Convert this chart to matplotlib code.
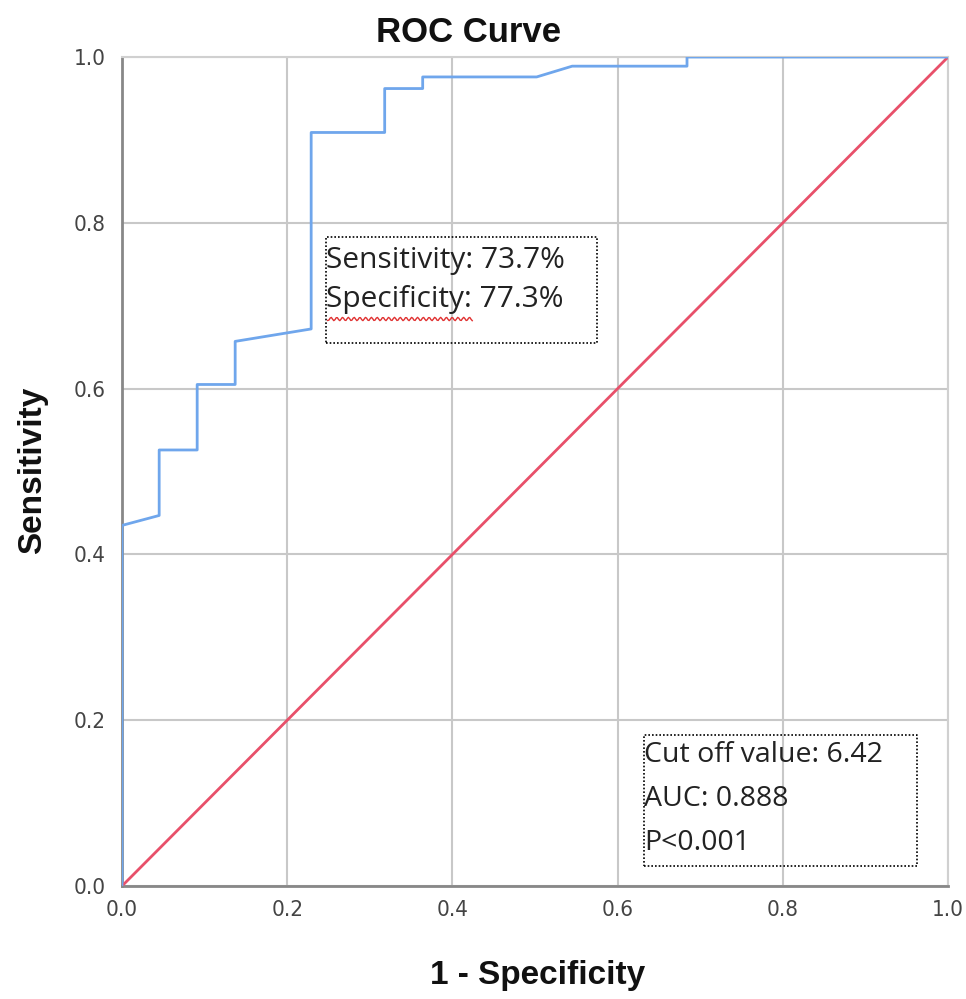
import numpy as np
import matplotlib
matplotlib.use("Agg")
import matplotlib.pyplot as plt

# ROC curve points
fpr = [0.0, 0.0, 0.045, 0.045, 0.091, 0.091, 0.137, 0.137, 0.229, 0.229,
       0.318, 0.318, 0.364, 0.364, 0.502, 0.545, 0.684, 0.684, 1.0]
tpr = [0.0, 0.435, 0.447, 0.526, 0.526, 0.605, 0.605, 0.657, 0.672, 0.909,
       0.909, 0.962, 0.962, 0.976, 0.976, 0.989, 0.989, 1.0, 1.0]
ref_line = [0.0, 1.0]
ticks = [0.0, 0.2, 0.4, 0.6, 0.8, 1.0]
tick_labels = ["0.0", "0.2", "0.4", "0.6", "0.8", "1.0"]

box1_lines = ["Sensitivity: 73.7%", "Specificity: 77.3%"]
box2_lines = ["Cut off value: 6.42", "AUC: 0.888", "P<0.001"]

fig = plt.figure(figsize=(9.66, 9.99), dpi=100)
ax = fig.add_axes([0.1263, 0.1131, 0.8551, 0.8298])

ax.set_xlim(0, 1)
ax.set_ylim(0, 1)
ax.set_xticks(ticks)
ax.set_yticks(ticks)
tick_font = dict(fontsize=16, color="#444444", fontfamily="DejaVu Sans", fontstretch="condensed")
ax.set_xticklabels(tick_labels, **tick_font)
ax.set_yticklabels(tick_labels, **tick_font)
ax.tick_params(axis="x", length=0, pad=10)
ax.tick_params(axis="y", length=0, pad=12)
ax.grid(True, color="#c8c8c8", linewidth=1.5)
ax.set_axisbelow(True)

for s in ["top", "right"]:
    ax.spines[s].set_color("#d0d0d0")
    ax.spines[s].set_linewidth(1.5)
for s in ["left", "bottom"]:
    ax.spines[s].set_color("#888888")
    ax.spines[s].set_linewidth(2)

ax.plot(ref_line, ref_line, color="#e8506a", linewidth=2, zorder=3)
ax.plot(fpr, tpr, color="#6fa6ec", linewidth=2, zorder=4)

fig.text(0.485, 0.967, "ROC Curve", fontsize=25, fontweight="bold",
         fontfamily="Liberation Sans", ha="center", va="center", color="#111111")
fig.text(0.557, 0.024, "1 - Specificity", fontsize=24, fontweight="bold",
         fontfamily="Liberation Sans", ha="center", va="center", color="#111111")
fig.text(0.034, 0.529, "Sensitivity", fontsize=24, fontweight="bold", rotation=90,
         fontfamily="Liberation Sans", ha="center", va="center", color="#111111")

# text boxes with dotted borders
def dotted_box(x0, y0, x1, y1):
    ax.plot([x0, x1, x1, x0, x0], [y0, y0, y1, y1, y0], color="black",
            linestyle=(0, (1, 1.2)), linewidth=1.2, zorder=5)

dotted_box(0.247, 0.655, 0.575, 0.783)
for i, t in enumerate(box1_lines):
    ax.text(0.247, 0.755 - i * 0.048, t, fontsize=21.5, fontfamily="Open Sans",
            color="#222222", va="center", ha="left", zorder=6)
# red spell-check squiggle under "Specificity"
sx = np.linspace(0.249, 0.424, 120)
ax.plot(sx, 0.684 + 0.002 * np.sin(sx * 900), color="#e03030", linewidth=1, zorder=6)

dotted_box(0.632, 0.024, 0.962, 0.182)
for i, t in enumerate(box2_lines):
    ax.text(0.632, 0.158 - i * 0.053, t, fontsize=20.5, fontfamily="Open Sans",
            color="#222222", va="center", ha="left", zorder=6)

fig.savefig("out.png", dpi=100, facecolor="white")
